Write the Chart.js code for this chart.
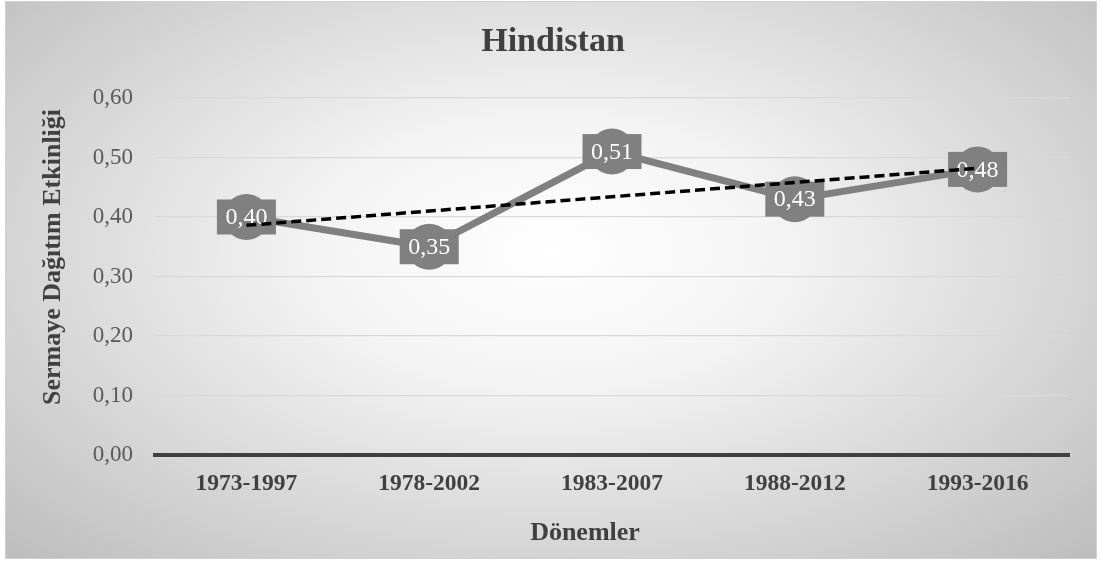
<!DOCTYPE html>
<html lang="tr">
<head>
<meta charset="utf-8">
<title>Hindistan</title>
<script src="https://cdn.jsdelivr.net/npm/chart.js@4.4.0/dist/chart.umd.min.js"></script>
<style>
  html, body { margin: 0; padding: 0; background: #ffffff; }
  .frame {
    position: absolute;
    left: 5px; top: 1px;
    width: 1092px; height: 558px;
    box-sizing: border-box;
    border: 1px solid #d0d0d0;
    background: radial-gradient(ellipse farthest-corner at 50% 45%, #ffffff 0%, #f4f4f4 30%, #bdbdbd 100%);
  }
  .frame canvas { display: block; }
</style>
</head>
<body>
<div class="frame">
  <canvas id="chart" width="1090" height="556"></canvas>
</div>
<script>
// Dönemler ve sermaye dağıtım etkinliği değerleri
const periods = ['1973-1997', '1978-2002', '1983-2007', '1988-2012', '1993-2016'];
const efficiency = [0.40, 0.35, 0.51, 0.43, 0.48];
// doğrusal eğilim çizgisinin uç noktaları (ara noktalar boş)
const trend = [0.386, null, null, null, 0.482];
const yTicks = [0, 0.1, 0.2, 0.3, 0.4, 0.5, 0.6];

const chartTitle = 'Hindistan';
const xTitle = 'Dönemler';
const yTitle = 'Sermaye Dağıtım Etkinliği';

const SERIF = '"Liberation Serif", "Times New Roman", serif';
const fmt = (v) => v.toFixed(2).replace('.', ',');

// gri kutulu veri etiketleri, ana serinin hemen ardından çizilir
const valueLabels = {
  id: 'valueLabels',
  afterDatasetDraw(chart, args) {
    if (args.index !== 0) return;
    const { ctx } = chart;
    const meta = args.meta;
    ctx.save();
    ctx.font = '24px ' + SERIF;
    ctx.textAlign = 'center';
    ctx.textBaseline = 'middle';
    meta.data.forEach((pt, i) => {
      const w = 59, h = 35;
      ctx.fillStyle = '#808080';
      ctx.fillRect(pt.x - w / 2, pt.y - h / 2, w, h);
      ctx.fillStyle = '#ffffff';
      ctx.fillText(fmt(efficiency[i]), pt.x, pt.y + 1);
    });
    ctx.restore();
  }
};

// başlık ve eksen başlıkları (Excel yerleşimine göre konumlanır)
const titles = {
  id: 'titles',
  afterDraw(chart) {
    const { ctx } = chart;
    ctx.save();
    ctx.fillStyle = '#404040';
    ctx.textAlign = 'center';
    ctx.textBaseline = 'middle';

    ctx.font = 'bold 34px ' + SERIF;
    ctx.fillText(chartTitle, 547, 40);

    ctx.font = 'bold 26px ' + SERIF;
    ctx.fillText(xTitle, 579, 531);

    ctx.translate(47, 255);
    ctx.rotate(-Math.PI / 2);
    ctx.fillText(yTitle, 0, 0);
    ctx.restore();
  }
};

new Chart(document.getElementById('chart'), {
  type: 'line',
  data: {
    labels: periods,
    datasets: [
      {
        label: 'Hindistan',
        data: efficiency,
        borderColor: '#808080',
        backgroundColor: '#808080',
        borderWidth: 7,
        pointRadius: 23,
        pointHoverRadius: 23,
        pointBackgroundColor: '#808080',
        pointBorderWidth: 0,
        order: 2,
      },
      {
        label: 'Doğrusal (Hindistan)',
        data: trend,
        spanGaps: true,
        borderColor: '#000000',
        borderWidth: 3.5,
        borderDash: [10, 5],
        pointRadius: 0,
        fill: false,
        order: 1,
      },
    ],
  },
  options: {
    responsive: false,
    animation: false,
    layout: { padding: { left: 0, right: 27, top: 96, bottom: 0 } },
    plugins: {
      legend: { display: false },
      tooltip: { enabled: false },
      title: { display: false },
    },
    scales: {
      x: {
        offset: true,
        grid: { display: false, drawTicks: false },
        border: { display: true, color: '#404040', width: 4 },
        ticks: {
          color: '#404040',
          padding: 15,
          font: { family: SERIF, size: 23.5, weight: 'bold' },
        },
        afterFit(scale) { scale.height = 103; },
      },
      y: {
        min: 0,
        max: 0.6,
        afterBuildTicks(scale) { scale.ticks = yTicks.map((v) => ({ value: v })); },
        grid: { color: '#d9d9d9', lineWidth: 1.3, drawTicks: false },
        border: { display: false },
        ticks: {
          color: '#595959',
          padding: 22,
          font: { family: SERIF, size: 23 },
          callback: (v) => fmt(v),
        },
        afterFit(scale) { scale.width = 149; },
      },
    },
  },
  plugins: [valueLabels, titles],
});
</script>
</body>
</html>
